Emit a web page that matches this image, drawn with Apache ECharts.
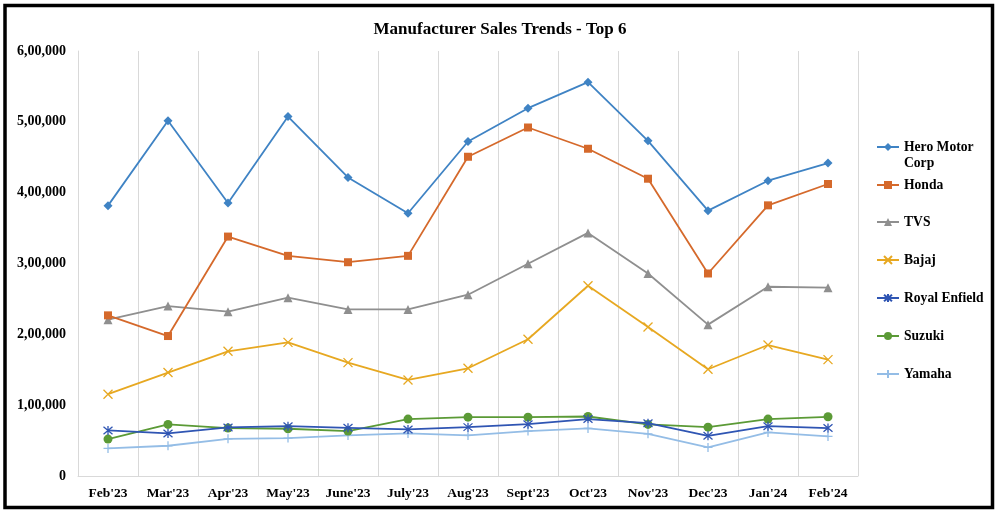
<!DOCTYPE html>
<html>
<head>
<meta charset="utf-8">
<script src="https://cdn.jsdelivr.net/npm/echarts@6/dist/echarts.min.js"></script>
<style>html,body{margin:0;padding:0;background:#fff}#c{width:1000px;height:516px}</style>
</head>
<body>
<div id="c"></div>
<script>
const categories = ["Feb'23","Mar'23","Apr'23","May'23","June'23","July'23","Aug'23","Sept'23","Oct'23","Nov'23","Dec'23","Jan'24","Feb'24"];
const hero = [381700,501400,385500,507500,421500,370900,472300,519300,556000,473200,374600,416900,441800];
const honda = [226800,197600,338000,310800,301800,310800,450700,492000,462000,419700,285900,382100,412200];
const tvs = [220700,239900,232000,251700,235200,235200,255900,299600,343200,285900,213700,267200,265800];
const bajaj = [115500,146000,176000,188700,160100,135600,152100,193000,268600,210300,150700,184900,164300];
const royalEnfield = [64300,60100,68600,70400,68000,65700,69000,73200,80300,74600,56800,70400,67600];
const suzuki = [52100,72800,67600,66700,63400,80300,83100,83100,84000,72800,69000,80300,83600];
const yamaha = [39000,42700,52500,53500,57300,60100,57300,63400,67100,59600,40400,61500,55900];
const yTickValues = [0,100000,200000,300000,400000,500000,600000];
const yTickLabels = ['0','1,00,000','2,00,000','3,00,000','4,00,000','5,00,000','6,00,000'];
const seriesNames = ['Hero Motor Corp','Honda','TVS','Bajaj','Royal Enfield','Suzuki','Yamaha'];

const FONT = '"Liberation Serif","Times New Roman",serif';
const defs = [
  {data: hero, color:'#3f83c4', symbol:'diamond', size:9, stroke:false},
  {data: honda, color:'#d5692b', symbol:'rect', size:8, stroke:false},
  {data: tvs, color:'#8f8f8f', symbol:'triangle', size:9, stroke:false},
  {data: bajaj, color:'#e7a821', symbol:'path://M0,0L10,10M10,0L0,10', size:9, stroke:true},
  {data: royalEnfield, color:'#2f55b3', symbol:'path://M0,0L10,10M10,0L0,10M5,-1L5,11', size:9, stroke:true},
  {data: suzuki, color:'#5b9a36', symbol:'circle', size:9, stroke:false},
  {data: yamaha, color:'#94bde6', symbol:'path://M5,0L5,10M0,5L10,5', size:9, stroke:true}
];
const series = defs.map((d,i)=>({
  name: seriesNames[i],
  type:'line',
  data: d.data,
  symbol: d.symbol,
  symbolSize: d.size,
  showAllSymbol: true,
  lineStyle:{color:d.color,width:1.8},
  itemStyle: d.stroke ? {color:'none',borderColor:d.color,borderWidth:1.3} : {color:d.color,borderColor:d.color,borderWidth:0},
  emphasis:{disabled:true},
  z: 10 - i,
  animation:false
}));
const legendCenters = [147,185,222,260,298,336,374];
const legends = seriesNames.map((n,i)=>{
  const isHero = i===0;
  return {
    orient:'vertical',
    left: 876,
    top: isHero ? legendCenters[i]-24 : legendCenters[i]-8,
    padding:0,
    itemWidth:22,
    itemHeight:10,
    itemGap:0,
    data:[n],
    selectedMode:false,
    formatter: isHero ? ' \nHero Motor\nCorp' : '{name}',
    textStyle:{fontFamily:FONT,fontWeight:'bold',fontSize:13.6,color:'#000',lineHeight:16}
  };
});
const chart = echarts.init(document.getElementById('c'), null, {renderer:'canvas'});
chart.setOption({
  animation:false,
  backgroundColor:'#fff',
  title:{text:'Manufacturer Sales Trends - Top 6',left:'center',top:16,textStyle:{fontFamily:FONT,fontWeight:'bold',fontSize:17,color:'#000'}},
  grid:{left:78,right:142,top:51,bottom:40},
  legend: legends,
  xAxis:{type:'category',data:categories,boundaryGap:true,
    axisLine:{lineStyle:{color:'#d9d9d9',width:1}},
    axisTick:{show:false},
    splitLine:{show:true,lineStyle:{color:'#d9d9d9',width:1}},
    axisLabel:{interval:0,margin:11,fontFamily:FONT,fontWeight:'bold',fontSize:13.5,color:'#000'}},
  yAxis:{type:'value',min:0,max:600000,interval:100000,
    axisLine:{show:true,lineStyle:{color:'#d9d9d9'}},
    axisTick:{show:false},
    splitLine:{show:false},
    axisLabel:{margin:12,fontFamily:FONT,fontWeight:'bold',fontSize:14,color:'#000',
      formatter:v=>{const k=yTickValues.indexOf(v);return k>=0?yTickLabels[k]:'';}}},
  graphic:[{type:'rect',shape:{x:5,y:5.5,width:987.5,height:502},style:{fill:'none',stroke:'#000',lineWidth:3.5},silent:true,z:100}],
  series: series
});
</script>
</body>
</html>
